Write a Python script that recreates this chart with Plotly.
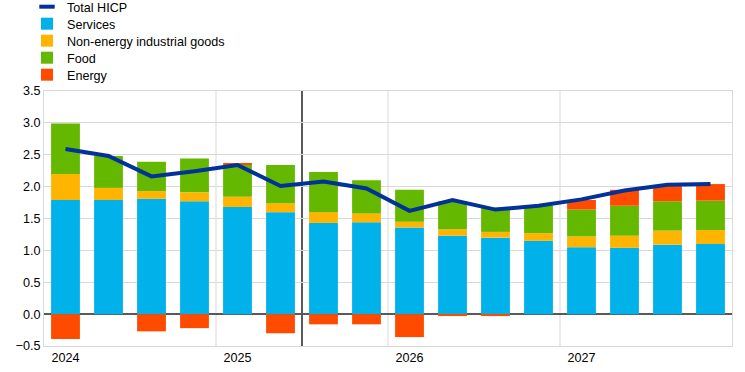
import plotly.graph_objects as go

quarters = ["2024Q1", "2024Q2", "2024Q3", "2024Q4",
            "2025Q1", "2025Q2", "2025Q3", "2025Q4",
            "2026Q1", "2026Q2", "2026Q3", "2026Q4",
            "2027Q1", "2027Q2", "2027Q3", "2027Q4"]
year_labels = ["2024", "2025", "2026", "2027"]

services = [1.79, 1.79, 1.81, 1.77, 1.68, 1.60, 1.43, 1.44,
            1.36, 1.23, 1.20, 1.15, 1.05, 1.04, 1.09, 1.10]
neig = [0.41, 0.19, 0.12, 0.14, 0.16, 0.14, 0.17, 0.14,
        0.09, 0.10, 0.09, 0.12, 0.17, 0.19, 0.22, 0.22]
food = [0.79, 0.50, 0.46, 0.53, 0.50, 0.60, 0.63, 0.52,
        0.50, 0.44, 0.38, 0.44, 0.42, 0.47, 0.46, 0.46]
energy = [-0.39, 0.0, -0.27, -0.22, 0.03, -0.30, -0.16, -0.16,
          -0.36, -0.03, -0.03, 0.0, 0.15, 0.25, 0.25, 0.26]
hicp = [2.59, 2.48, 2.16, 2.24, 2.34, 2.01, 2.08, 1.97,
        1.62, 1.79, 1.64, 1.70, 1.80, 1.94, 2.03, 2.04]

projection_start_index = 6  # first projected quarter (2025Q3)

x = list(range(len(quarters)))
tickvals = [i for i, q in enumerate(quarters) if q.endswith("Q1")]
year_bounds = [i - 0.5 for i in tickvals[1:]]

C_LINE = "#003299"
C_SERV = "#00B1EA"
C_NEIG = "#FFB400"
C_FOOD = "#65B800"
C_ENER = "#FF4B00"
GRID = "#d9d9d9"
DARK = "#595959"
FONT = "Liberation Sans, Arial, sans-serif"
FS = 12.6

# plot-area geometry (pixels) used to place the legend rows
W, H = 745, 372
ML, MR, MT, MB = 44, 13, 91, 26
PW, PH = W - ML - MR, H - MT - MB
legend_rows_px = [7, 24, 41, 58, 75]
legend_x_px = 27


def px_to_paper_y(py):
    return (H - MB - py) / PH


def px_to_paper_x(px):
    return (px - ML) / PW


fig = go.Figure()
# legend-only marker for the line (short dash)
fig.add_trace(go.Scatter(x=[None], y=[None], mode="markers", name="Total HICP",
                         marker=dict(symbol="line-ew", size=11, color=C_LINE,
                                     line=dict(color=C_LINE, width=4)),
                         showlegend=True, legend="legend"))
series = [("Services", services, C_SERV),
          ("Non-energy industrial goods", neig, C_NEIG),
          ("Food", food, C_FOOD),
          ("Energy", energy, C_ENER)]
for k, (name, vals, col) in enumerate(series):
    fig.add_trace(go.Bar(x=x, y=vals, name=name, marker=dict(color=col, line=dict(width=0)),
                         width=0.67, legend="legend%d" % (k + 2)))
fig.add_trace(go.Scatter(x=x, y=hicp, mode="lines", name="Total HICP",
                         line=dict(color=C_LINE, width=4), showlegend=False))

shapes = []
for b in year_bounds:
    shapes.append(dict(type="line", x0=b, x1=b, yref="y domain", y0=0, y1=1,
                       line=dict(color=GRID, width=1), layer="below"))
shapes.append(dict(type="line", x0=projection_start_index - 0.5, x1=projection_start_index - 0.5,
                   yref="y domain", y0=0, y1=1, line=dict(color=DARK, width=2), layer="below"))

legend_common = dict(xref="paper", yref="paper", xanchor="left", yanchor="middle",
                     font=dict(size=FS, family=FONT, color="#000000"),
                     bgcolor="rgba(0,0,0,0)", itemwidth=30, borderwidth=0)
legends = {}
for k, py in enumerate(legend_rows_px):
    key = "legend" if k == 0 else "legend%d" % (k + 1)
    legends[key] = dict(legend_common, x=px_to_paper_x(legend_x_px), y=px_to_paper_y(py))

fig.update_layout(
    width=W, height=H,
    margin=dict(l=ML, r=MR, t=MT, b=MB, autoexpand=False),
    barmode="relative",
    plot_bgcolor="white", paper_bgcolor="white",
    font=dict(family=FONT, size=FS, color="#000000"),
    shapes=shapes,
    showlegend=True,
    xaxis=dict(range=[-0.5, len(quarters) - 0.5], tickvals=tickvals, ticktext=year_labels,
               showgrid=False, zeroline=False, showline=True, mirror=True,
               linecolor=GRID, linewidth=1, ticks="", tickfont=dict(size=FS)),
    yaxis=dict(range=[-0.5, 3.5], dtick=0.5, tick0=0, tickformat=".1f",
               showgrid=True, gridcolor=GRID, gridwidth=1,
               zeroline=True, zerolinecolor=DARK, zerolinewidth=2,
               showline=True, mirror=True, linecolor=GRID, linewidth=1,
               ticks="", tickfont=dict(size=FS)),
    **legends,
)

fig.write_html("out.html", config={"displayModeBar": False},
               post_script="document.body.style.margin='0';document.body.style.overflow='hidden';")
